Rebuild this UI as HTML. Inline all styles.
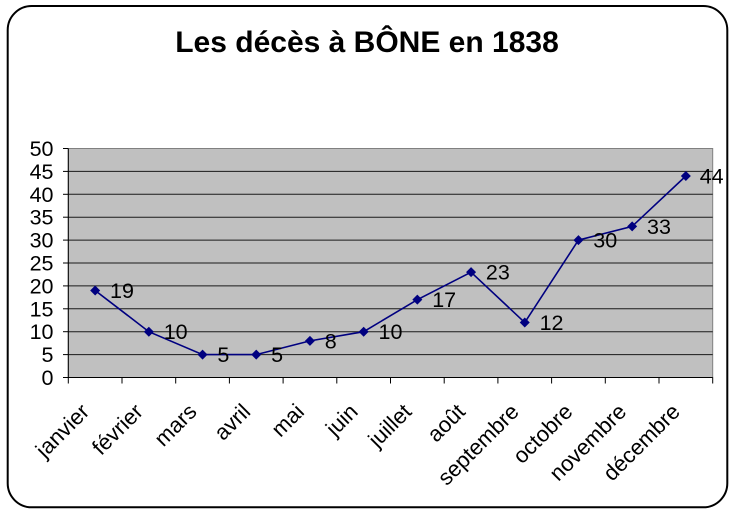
<!DOCTYPE html>
<html><head><meta charset="utf-8"><style>
html,body{margin:0;padding:0;background:#fff;}
svg{display:block;}
text{font-family:"Liberation Sans",Arial,sans-serif;fill:#000;}
</style></head><body>
<svg width="735" height="514" viewBox="0 0 735 514" xmlns="http://www.w3.org/2000/svg">
<rect x="0" y="0" width="735" height="514" fill="#fff"/>
<rect x="7.7" y="6" width="719.6" height="501.3" rx="24" ry="24" fill="#fff" stroke="#000" stroke-width="2"/>
<text x="367" y="52" font-size="30" font-weight="bold" text-anchor="middle">Les décès à BÔNE en 1838</text>
<!-- plot area -->
<rect x="68.3" y="148.5" width="644.4" height="229" fill="#c0c0c0" stroke="#808080" stroke-width="1"/>
<g stroke="#1a1a1a" stroke-width="1">
<line x1="68.3" y1="171.4" x2="712.7" y2="171.4"/>
<line x1="68.3" y1="194.3" x2="712.7" y2="194.3"/>
<line x1="68.3" y1="217.2" x2="712.7" y2="217.2"/>
<line x1="68.3" y1="240.1" x2="712.7" y2="240.1"/>
<line x1="68.3" y1="263.0" x2="712.7" y2="263.0"/>
<line x1="68.3" y1="285.9" x2="712.7" y2="285.9"/>
<line x1="68.3" y1="308.8" x2="712.7" y2="308.8"/>
<line x1="68.3" y1="331.7" x2="712.7" y2="331.7"/>
<line x1="68.3" y1="354.6" x2="712.7" y2="354.6"/>
</g>
<!-- axes -->
<g stroke="#000" stroke-width="1">
<line x1="68.3" y1="148.5" x2="68.3" y2="377.5"/>
<line x1="68.3" y1="377.5" x2="712.7" y2="377.5"/>
<line x1="63" y1="148.5" x2="68.3" y2="148.5"/>
<line x1="63" y1="171.4" x2="68.3" y2="171.4"/>
<line x1="63" y1="194.3" x2="68.3" y2="194.3"/>
<line x1="63" y1="217.2" x2="68.3" y2="217.2"/>
<line x1="63" y1="240.1" x2="68.3" y2="240.1"/>
<line x1="63" y1="263.0" x2="68.3" y2="263.0"/>
<line x1="63" y1="285.9" x2="68.3" y2="285.9"/>
<line x1="63" y1="308.8" x2="68.3" y2="308.8"/>
<line x1="63" y1="331.7" x2="68.3" y2="331.7"/>
<line x1="63" y1="354.6" x2="68.3" y2="354.6"/>
<line x1="63" y1="377.5" x2="68.3" y2="377.5"/>
<line x1="68.3" y1="377.5" x2="68.3" y2="383.5"/>
<line x1="122" y1="377.5" x2="122" y2="383.5"/>
<line x1="175.7" y1="377.5" x2="175.7" y2="383.5"/>
<line x1="229.4" y1="377.5" x2="229.4" y2="383.5"/>
<line x1="283.1" y1="377.5" x2="283.1" y2="383.5"/>
<line x1="336.8" y1="377.5" x2="336.8" y2="383.5"/>
<line x1="390.5" y1="377.5" x2="390.5" y2="383.5"/>
<line x1="444.2" y1="377.5" x2="444.2" y2="383.5"/>
<line x1="497.9" y1="377.5" x2="497.9" y2="383.5"/>
<line x1="551.6" y1="377.5" x2="551.6" y2="383.5"/>
<line x1="605.3" y1="377.5" x2="605.3" y2="383.5"/>
<line x1="659" y1="377.5" x2="659" y2="383.5"/>
<line x1="712.7" y1="377.5" x2="712.7" y2="383.5"/>
</g>
<!-- y labels -->
<g font-size="21.5" text-anchor="end">
<text x="53.5" y="156">50</text>
<text x="53.5" y="178.9">45</text>
<text x="53.5" y="201.8">40</text>
<text x="53.5" y="224.7">35</text>
<text x="53.5" y="247.6">30</text>
<text x="53.5" y="270.5">25</text>
<text x="53.5" y="293.4">20</text>
<text x="53.5" y="316.3">15</text>
<text x="53.5" y="339.2">10</text>
<text x="53.5" y="362.1">5</text>
<text x="53.5" y="385">0</text>
</g>
<!-- x labels -->
<g font-size="22" text-anchor="end">
<text transform="translate(90.6,413) rotate(-45)">janvier</text>
<text transform="translate(144.3,413) rotate(-45)">février</text>
<text transform="translate(198,413) rotate(-45)">mars</text>
<text transform="translate(251.7,413) rotate(-45)">avril</text>
<text transform="translate(305.4,413) rotate(-45)">mai</text>
<text transform="translate(359.1,413) rotate(-45)">juin</text>
<text transform="translate(412.8,413) rotate(-45)">juillet</text>
<text transform="translate(466.5,413) rotate(-45)">août</text>
<text transform="translate(520.2,413) rotate(-45)">septembre</text>
<text transform="translate(573.9,413) rotate(-45)">octobre</text>
<text transform="translate(627.6,413) rotate(-45)">novembre</text>
<text transform="translate(681.3,413) rotate(-45)">décembre</text>
</g>
<!-- series -->
<polyline fill="none" stroke="#000080" stroke-width="1.6" points="95.15,290.48 148.85,331.7 202.55,354.6 256.25,354.6 309.95,340.86 363.65,331.7 417.35,299.64 471.05,272.16 524.75,322.54 578.45,240.1 632.15,226.36 685.85,175.98"/>
<g fill="#000080">
<path d="M95.15,285.48 L100.15,290.48 L95.15,295.48 L90.15,290.48 Z"/>
<path d="M148.85,326.7 L153.85,331.7 L148.85,336.7 L143.85,331.7 Z"/>
<path d="M202.55,349.6 L207.55,354.6 L202.55,359.6 L197.55,354.6 Z"/>
<path d="M256.25,349.6 L261.25,354.6 L256.25,359.6 L251.25,354.6 Z"/>
<path d="M309.95,335.86 L314.95,340.86 L309.95,345.86 L304.95,340.86 Z"/>
<path d="M363.65,326.7 L368.65,331.7 L363.65,336.7 L358.65,331.7 Z"/>
<path d="M417.35,294.64 L422.35,299.64 L417.35,304.64 L412.35,299.64 Z"/>
<path d="M471.05,267.16 L476.05,272.16 L471.05,277.16 L466.05,272.16 Z"/>
<path d="M524.75,317.54 L529.75,322.54 L524.75,327.54 L519.75,322.54 Z"/>
<path d="M578.45,235.1 L583.45,240.1 L578.45,245.1 L573.45,240.1 Z"/>
<path d="M632.15,221.36 L637.15,226.36 L632.15,231.36 L627.15,226.36 Z"/>
<path d="M685.85,170.98 L690.85,175.98 L685.85,180.98 L680.85,175.98 Z"/>
</g>
<!-- data labels -->
<g font-size="21.5">
<text x="110" y="298">19</text>
<text x="163.7" y="339.2">10</text>
<text x="217.4" y="362.1">5</text>
<text x="271.1" y="362.1">5</text>
<text x="324.8" y="348.4">8</text>
<text x="378.5" y="339.2">10</text>
<text x="432.2" y="307.1">17</text>
<text x="485.9" y="279.7">23</text>
<text x="539.6" y="330">12</text>
<text x="593.3" y="247.6">30</text>
<text x="647" y="233.9">33</text>
<text x="699.7" y="183.5">44</text>
</g>
</svg>
</body></html>
